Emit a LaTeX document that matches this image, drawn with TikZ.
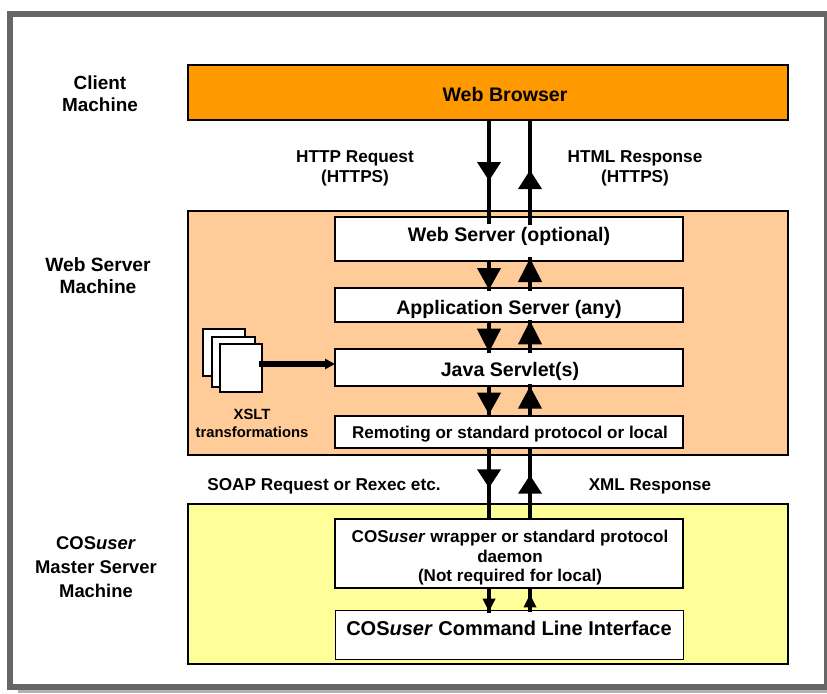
\documentclass[tikz,border=0pt]{standalone}
\usepackage{fontspec}
\setmainfont{Liberation Sans}
\usetikzlibrary{arrows.meta,decorations.markings}
\definecolor{framegray}{HTML}{666666}
\definecolor{shadegray}{HTML}{B2B2B2}
\definecolor{browserorange}{HTML}{FF9900}
\definecolor{webpeach}{HTML}{FFCC99}
\definecolor{masteryellow}{HTML}{FFFF99}
\newcommand{\Shape}[6]{\node[#2,minimum width={(#5-#3)*0.75pt},minimum height={(#6-#4)*0.75pt}] (#1) at (#3,#4) {};}
\tikzset{
  x=0.75pt,y=-0.75pt,
  zonebox/.style={draw=black,line width=1.4pt,anchor=north west,inner sep=0pt,outer sep=0pt},
  whitebox/.style={zonebox,fill=white},
  thinbox/.style={whitebox,line width=0.7pt},
  sheet/.style={whitebox,line width=1.2pt},
  txt/.style 2 args={align=center,inner sep=0pt,font=\bfseries\fontsize{#1}{#2}\selectfont},
  wire/.style={line width=3.7pt},
  thinwire/.style={line width=3.6pt},
  headat/.style n args={3}{postaction={decorate},decoration={markings,mark=at position #1 with {\arrow{Triangle[width=#3,length=#2,sep=0pt]}}}},
}
\begin{document}
\begin{tikzpicture}
\useasboundingbox (0,0) rectangle (827,693);
\fill[white] (0,0) rectangle (827,693);
\fill[shadegray] (18,690) rectangle (827,693);
\fill[framegray] (7,11) rectangle (827,690);
\fill[white] (13,17) rectangle (824,684);
% column coordinates
\coordinate (xa) at (489,0);
\coordinate (xb) at (530,0);
\coordinate (ya) at (0,364);
% zones
\Shape{browser}{zonebox,fill=browserorange}{188}{65}{788}{120}
\Shape{webzone}{zonebox,fill=webpeach}{188}{211}{788}{455}
\Shape{masterzone}{zonebox,fill=masteryellow}{188}{504}{788}{664}
% boxes
\Shape{webserver}{whitebox}{335}{217}{683}{261}
\Shape{appserver}{whitebox}{335}{288}{683}{322}
\Shape{servlet}{whitebox}{335}{349}{683}{386}
\Shape{remoting}{whitebox}{335}{416}{683}{448}
\Shape{wrapper}{whitebox}{335}{519}{683}{588}
\Shape{cli}{thinbox}{335}{610}{683}{659}
% XSLT sheets
\Shape{sheetA}{sheet}{203}{329}{245}{376}
\Shape{sheetB}{sheet}{212}{337}{255}{387}
\Shape{sheetC}{sheet}{220}{344}{262}{392}
% connectors
\draw[wire,headat={45.75pt}{14.25pt}{17pt}] (browser.south -| xa) -- ([yshift=-5pt]webserver.north -| xa);
\draw[wire,headat={41.25pt}{14.25pt}{17pt}] ([yshift=-6pt]webserver.north -| xb) -- (browser.south -| xb);
\draw[wire,headat={21.75pt}{16.5pt}{17pt}] (webserver.south -| xa) -- ([yshift=-2.25pt]appserver.north -| xa);
\draw[wire,headat={24.5pt}{18pt}{17pt}] ([yshift=-2pt]appserver.north -| xb) -- ([yshift=3pt]webserver.south -| xb);
\draw[wire,headat={24pt}{18pt}{17pt}] ([yshift=1pt]appserver.south -| xa) -- ([yshift=-3.2pt]servlet.north -| xa);
\draw[wire,headat={24.5pt}{18pt}{17pt}] ([yshift=-3pt]servlet.north -| xb) -- ([yshift=1.5pt]appserver.south -| xb);
\draw[wire,headat={21.5pt}{16.5pt}{17pt}] (servlet.south -| xa) -- (remoting.north -| xa);
\draw[wire,headat={22.5pt}{17pt}{17pt}] (remoting.north -| xb) -- ([yshift=1.5pt]servlet.south -| xb);
\draw[wire,headat={30pt}{14pt}{17pt}] (remoting.south -| xa) -- (wrapper.north -| xa);
\draw[wire,headat={34pt}{14pt}{17pt}] ([yshift=-1pt]wrapper.north -| xb) -- (remoting.south -| xb);
\draw[thinwire,headat={18pt}{10pt}{9pt}] (wrapper.south -| xa) -- ([yshift=-2.25pt]cli.north -| xa);
\draw[thinwire,headat={13.5pt}{10pt}{9pt}] ([yshift=-1.5pt]cli.north -| xb) -- ([yshift=0.75pt]wrapper.south -| xb);
\draw[line width=4pt,-{Triangle[width=7.5pt,length=7.5pt,sep=0pt]}] ([xshift=-2pt]sheetC.east |- ya) -- (servlet.west |- ya);
% box texts
\node[txt={14.7}{17}] (tbrowser) at (505,94) {Web Browser};
\node[txt={14.7}{17}] (twebserver) at (509,236) {Web Server (optional)};
\node[txt={14.7}{17}] (tappserver) at (509,309) {Application Server (any)};
\node[txt={14.7}{17}] (tservlet) at (510,371) {Java Servlet(s)};
\node[txt={12.8}{15}] (tremoting) at (510,434) {Remoting or standard protocol or local};
\node[txt={12.8}{14.6}] (twrapper) at (510,558) {COS\textit{user} wrapper or standard protocol\\daemon\\(Not required for local)};
\node[txt={15}{17}] (tcli) at (509,628) {COS\textit{user} Command Line Interface};
% side labels
\node[txt={14.2}{16.5}] (lclient) at (100,94) {Client\\Machine};
\node[txt={14.4}{16.5}] (lweb) at (98,276) {Web Server\\Machine};
\node[txt={13.8}{18}] (lmaster) at (96,567) {COS\textit{user}\\Master Server\\Machine};
\node[txt={12.9}{15}] (lhttp) at (355,168) {HTTP Request\\(HTTPS)};
\node[txt={12.9}{15}] (lhtml) at (635,168) {HTML Response\\(HTTPS)};
\node[txt={12.9}{15}] (lsoap) at (324,486) {SOAP Request or Rexec etc.};
\node[txt={12.8}{15}] (lxml) at (650,486) {XML Response};
\node[txt={11.1}{13.5}] (lxslt) at (252,423) {XSLT\\transformations};
\end{tikzpicture}
\end{document}
